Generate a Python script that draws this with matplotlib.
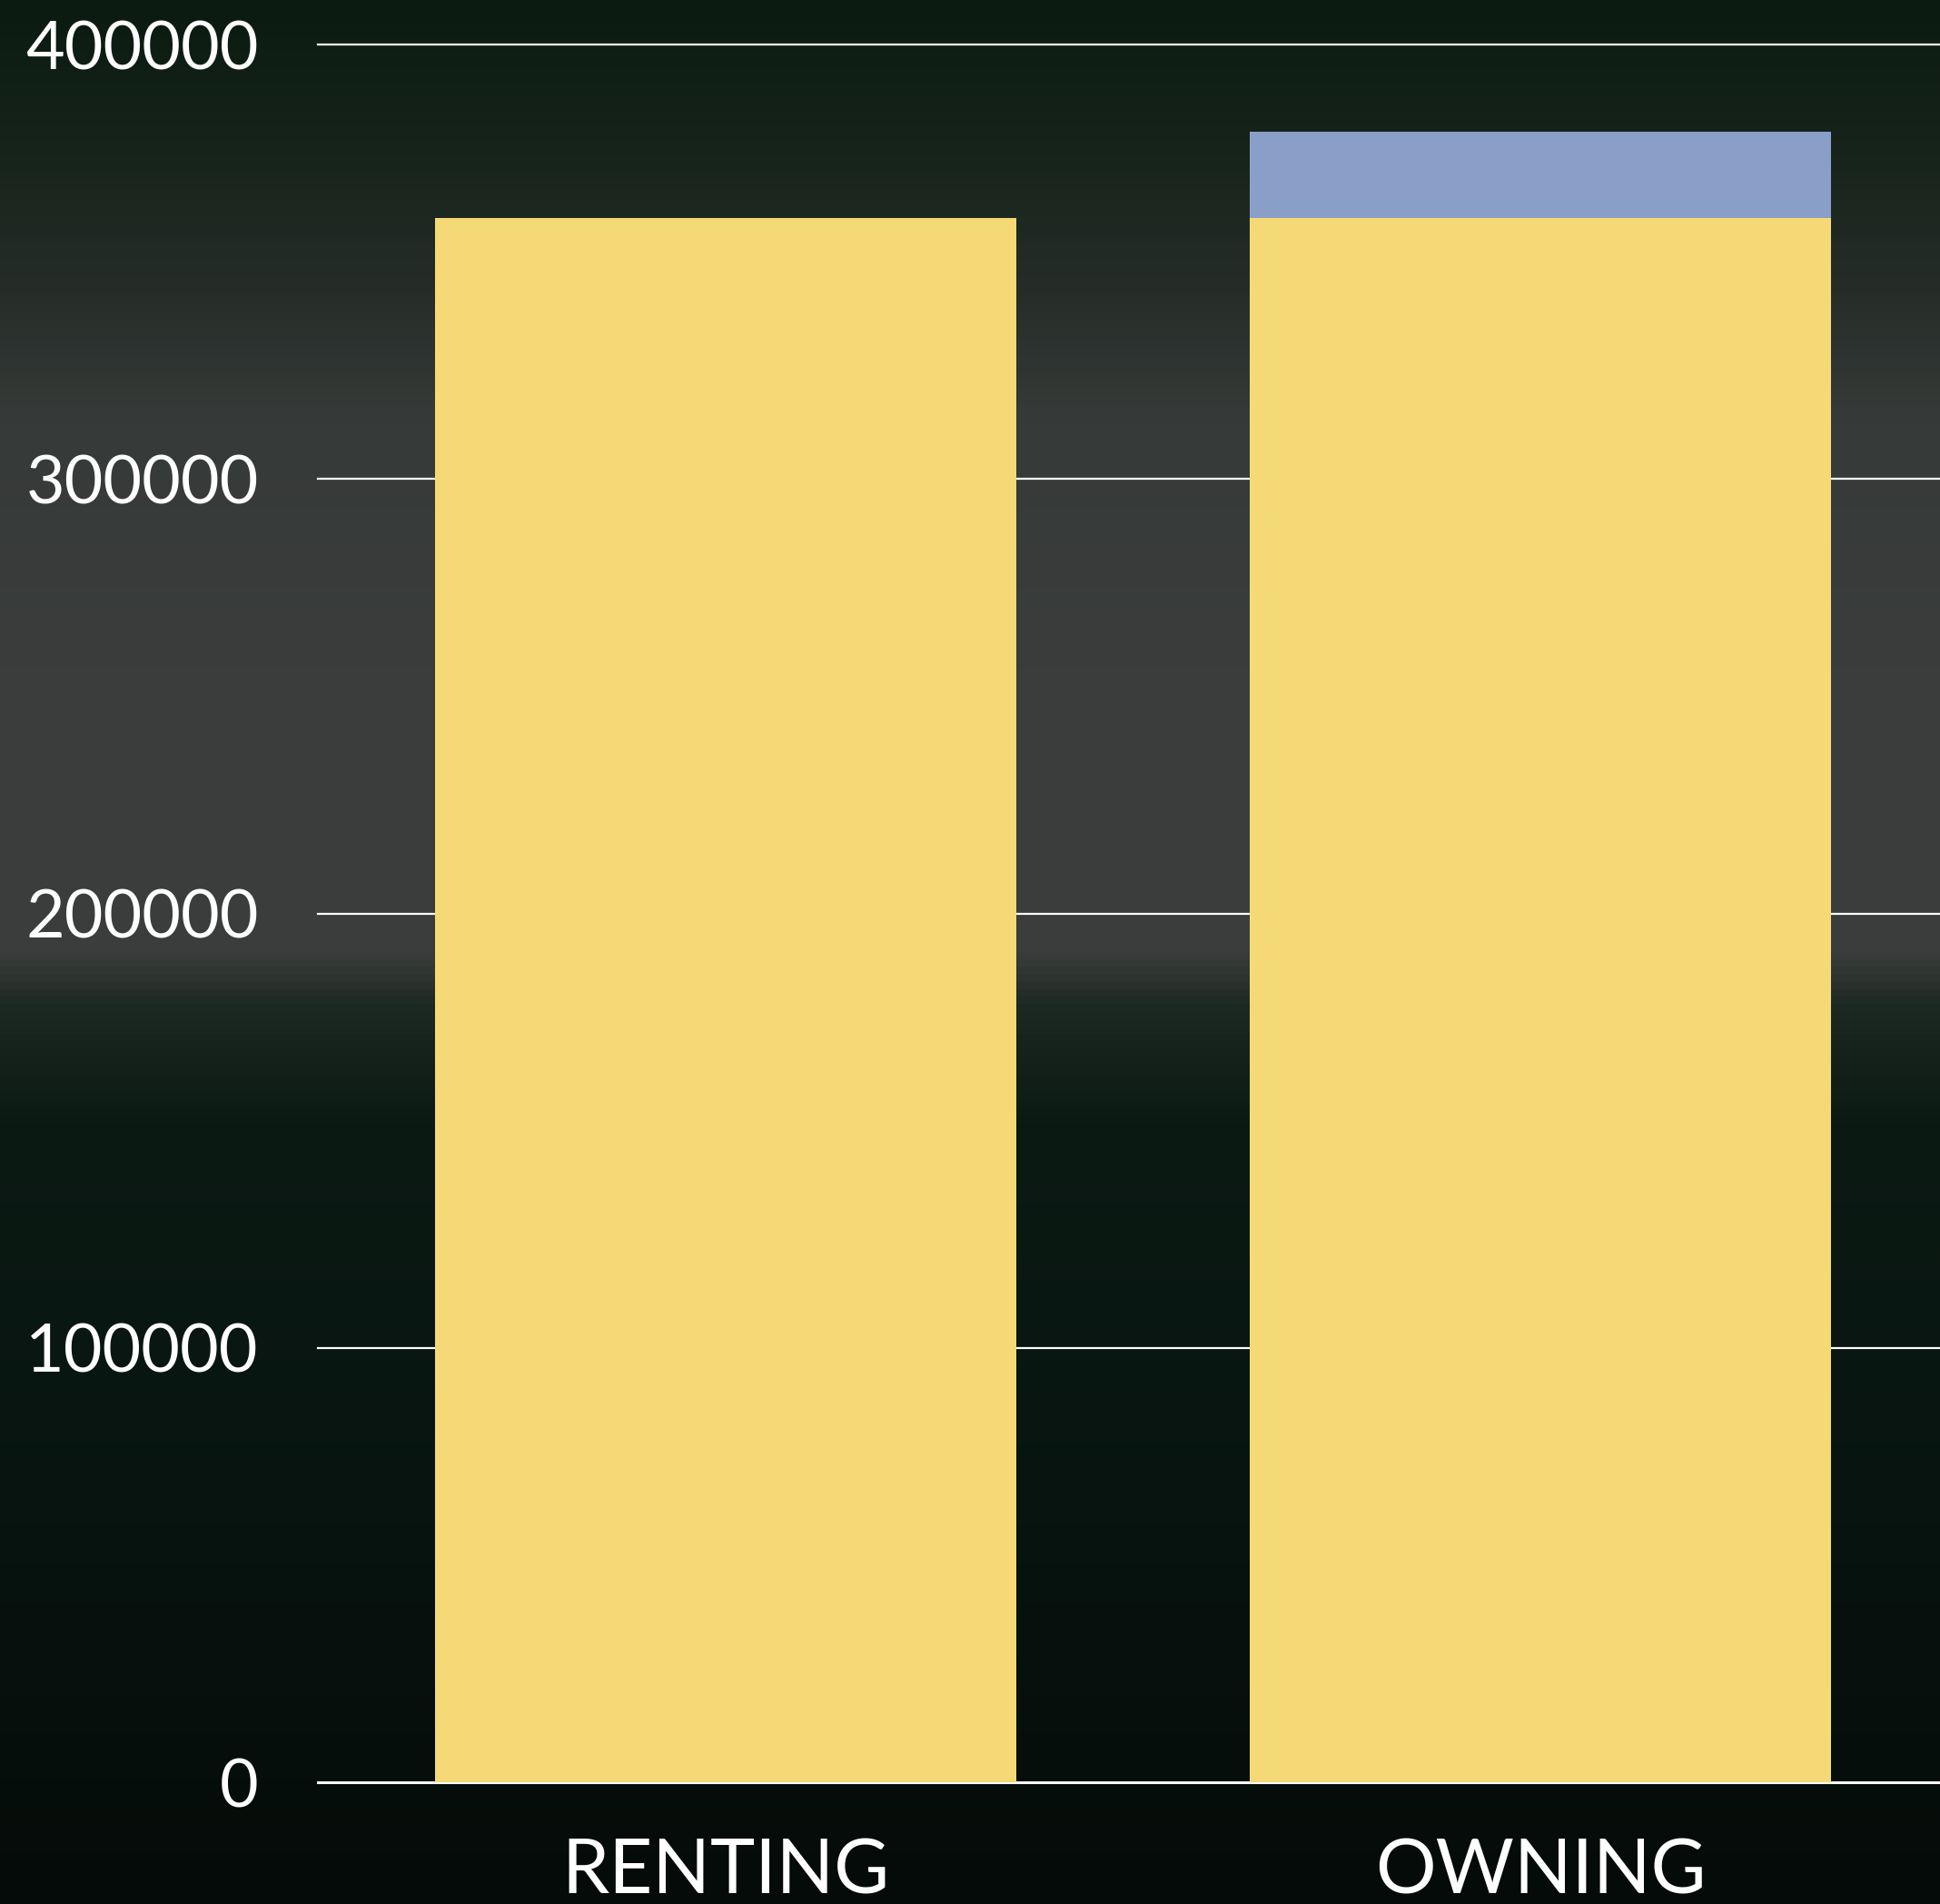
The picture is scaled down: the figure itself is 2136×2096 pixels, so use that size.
import numpy as np
import matplotlib
matplotlib.use("Agg")
import matplotlib.pyplot as plt
from matplotlib.colors import LinearSegmentedColormap

# Data
categories = ["RENTING", "OWNING"]
base_values = [360000, 360000]
extra_values = [0, 20000]
yticks = [0, 100000, 200000, 300000, 400000]

plt.rcParams['font.family'] = ['Lato', 'DejaVu Sans']

fig = plt.figure(figsize=(21.36, 20.96), dpi=100)

# Dark backdrop, grey band in the middle like the slide photo
bg = fig.add_axes([0, 0, 1, 1], zorder=-10)
stops = [(0.0, "#0c1b11"), (0.08, "#16241b"), (0.15, "#262d29"),
         (0.22, "#363a38"), (0.35, "#3a3d3b"), (0.5, "#3a3d3b"),
         (0.53, "#1c2822"), (0.59, "#0c1a14"), (0.8, "#071410"),
         (1.0, "#050b08")]
cmap = LinearSegmentedColormap.from_list("bg", stops)
grad = np.linspace(0, 1, 512).reshape(-1, 1)
bg.imshow(grad, cmap=cmap, aspect="auto", extent=[0, 1, 1, 0])
bg.set_axis_off()

ax = fig.add_axes([0.1639, 0.0639, 0.8361, 0.9127])
ax.patch.set_alpha(0)

x = np.arange(len(categories))
ax.bar(x, base_values, width=0.713, color="#f6d977", zorder=3)
ax.bar(x, extra_values, width=0.713, bottom=base_values, color="#8a9fc8", zorder=3)

ax.set_xlim(-0.5, 1.49)
ax.set_ylim(0, 400000)
ax.set_yticks(yticks)
ax.set_yticklabels([str(v) for v in yticks])
ax.set_xticks(x)
ax.set_xticklabels(categories)

for v in yticks:
    ax.axhline(v, color="white", lw=1.6 if v else 2.2, zorder=1, clip_on=False)

ax.tick_params(axis="y", length=0, pad=47, labelsize=53, labelcolor="white")
ax.tick_params(axis="x", length=0, pad=44, labelsize=60, labelcolor="white")
for s in ax.spines.values():
    s.set_visible(False)

fig.savefig("out.png", dpi=100)
